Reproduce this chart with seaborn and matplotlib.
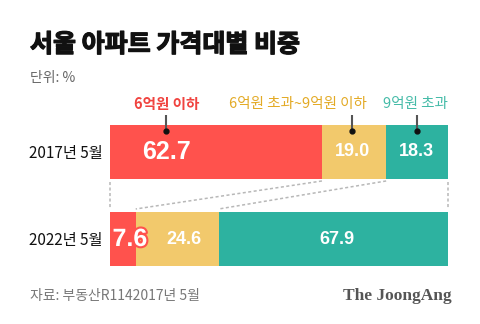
import matplotlib
matplotlib.use("Agg")
import matplotlib.pyplot as plt
import matplotlib.patheffects as pe
import seaborn as sns
import numpy as np
import pandas as pd

# ---- data ----
categories = ["2017년 5월", "2022년 5월"]
series_names = ["6억원 이하", "6억원 초과~9억원 이하", "9억원 초과"]
under6 = [62.7, 7.6]
mid6to9 = [19.0, 24.6]
over9 = [18.3, 67.9]
value_labels = [["62.7", "19.0", "18.3"], ["7.6", "24.6", "67.9"]]

title = "서울 아파트 가격대별 비중"
unit = "단위: %"
source = "자료: 부동산R1142017년 5월"
brand = "The JoongAng"

# ---- style ----
RED, YEL, TEAL = "#FF524D", "#F2C96C", "#2DB2A0"
RED_T, YEL_T, TEAL_T = "#F0433F", "#E3AA25", "#45BBA8"

sns.set_theme(style="white")
plt.rcParams["font.family"] = ["Noto Sans CJK KR", "DejaVu Sans"]

W, H = 480, 324
fig = plt.figure(figsize=(4.8, 3.24), dpi=100)
fig.patch.set_facecolor("white")

def fx(x):
    return x / W

def fy(y):
    return 1 - y / H

# axes covering bar area: x 110..448 px, y 125..266 px
bw = 54 / 87
ax = fig.add_axes([fx(110), fy(266), (448 - 110) / W, (266 - 125) / H])

u = np.array(under6)
m = np.array(mid6to9)
o = np.array(over9)
df = pd.DataFrame({"cat": categories, "c1": u, "c2": u + m, "c3": u + m + o})

sns.barplot(data=df, x="c3", y="cat", orient="h", color=TEAL, width=bw,
            saturation=1, ax=ax, edgecolor="none")
sns.barplot(data=df, x="c2", y="cat", orient="h", color=YEL, width=bw,
            saturation=1, ax=ax, edgecolor="none")
sns.barplot(data=df, x="c1", y="cat", orient="h", color=RED, width=bw,
            saturation=1, ax=ax, edgecolor="none")

ax.set_xlim(0, 100)
ax.set_ylim(1 + bw / 2, -bw / 2)
ax.set_xlabel("")
ax.set_ylabel("")
ax.set_xticks([])
for s in ax.spines.values():
    s.set_visible(False)
ax.tick_params(axis="y", length=0, pad=5.5, labelsize=11, labelcolor="#111111")

# value labels
lab_x = [[16.8, 71.6, 90.6], [5.9, 21.9, 67.2]]
for i in range(2):
    for j in range(3):
        big = (j == 0)
        t = ax.text(lab_x[i][j], i, value_labels[i][j], ha="center", va="center",
                    color="white", fontsize=18 if big else 13, fontweight="bold",
                    family=["Liberation Sans", "DejaVu Sans"])
        if i == 1 and j == 0:
            t.set_path_effects([pe.withStroke(linewidth=3, foreground=RED)])

# connectors (dotted)
dcol = "#B8B8B8"
ls = (0, (2.0, 1.6))
y_top, y_bot = 0.345, 0.648
ax.plot([0, 0], [y_top, y_bot], color=dcol, lw=1.1, ls=ls, clip_on=False)
ax.plot([100, 100], [y_top, y_bot], color=dcol, lw=1.1, ls=ls, clip_on=False)
c1_top = u[0]
c2_top = u[0] + m[0]
ax.plot([c1_top, u[1]], [0.333, 0.655], color=dcol, lw=1.1, ls=ls, clip_on=False)
ax.plot([c2_top, u[1] + m[1]], [0.333, 0.655], color=dcol, lw=1.1, ls=ls, clip_on=False)

# pointers
ptr_x = [16.6, 71.6, 90.8]
for px_ in ptr_x:
    ax.plot([px_, px_], [-0.425, -0.241], color="#555555", lw=1.5, clip_on=False,
            solid_capstyle="butt")
    ax.plot([px_], [-0.241], marker="o", ms=3.5, color="#111111", clip_on=False)

# legend labels
fig.text(fx(167), fy(104), series_names[0], color=RED_T, fontsize=10.5,
         fontweight="bold", ha="center", va="center")
fig.text(fx(298), fy(104), series_names[1], color=YEL_T, fontsize=10.5,
         ha="center", va="center")
fig.text(fx(415), fy(104), series_names[2], color=TEAL_T, fontsize=10.5,
         ha="center", va="center")

# title etc
tt = fig.text(fx(30), fy(45), title, fontsize=18, fontweight="bold", color="#111111",
              ha="left", va="center")
tt.set_path_effects([pe.withStroke(linewidth=0.9, foreground="#111111")])
fig.text(fx(30), fy(78), unit, fontsize=10, color="#666666", ha="left", va="center")
fig.text(fx(30), fy(296), source, fontsize=10, color="#777777", ha="left", va="center")
fig.text(fx(452), fy(296), brand, fontsize=12.5, color="#555555", ha="right",
         va="center", fontweight="bold", family=["Liberation Serif", "DejaVu Serif"])

fig.savefig("out.png", dpi=100, facecolor="white")
